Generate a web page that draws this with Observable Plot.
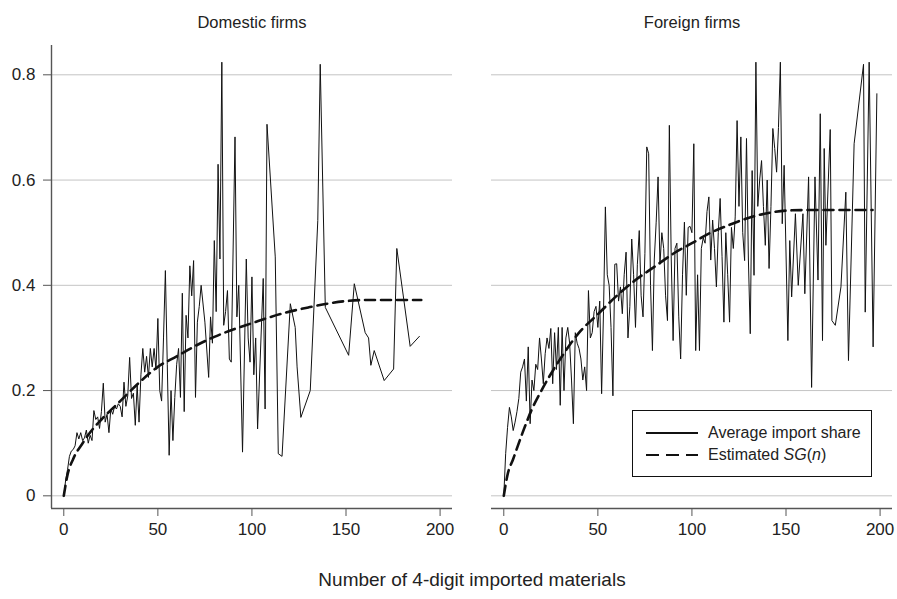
<!DOCTYPE html>
<html>
<head>
<meta charset="utf-8">
<script src="https://cdn.jsdelivr.net/npm/d3@7"></script>
<script src="https://cdn.jsdelivr.net/npm/@observablehq/plot@0.6"></script>
<style>
  body { margin: 0; background: #fff; font-family: "Liberation Sans", Arial, Helvetica, sans-serif; }
  #wrap { position: relative; width: 897px; height: 599px; }
  #xlabel { position: absolute; left: 51px; width: 842px; top: 569px; text-align: center; font-size: 19px; color: #222; line-height: 22px; }
  #legend { position: absolute; left: 632px; top: 410px; width: 238px; height: 65px; border: 1px solid #111; background: #fff; font-size: 16px; color: #222; }
  .lrow { position: absolute; left: 13px; height: 20px; display: flex; align-items: center; white-space: nowrap; }
  .lrow svg { margin-right: 10px; }
</style>
</head>
<body>
<div id="wrap">
  <div id="chart"></div>
  <div id="xlabel">Number of 4-digit imported materials</div>
  <div id="legend">
    <div class="lrow" style="top:12px"><svg width="52" height="6"><line x1="0" y1="3" x2="52" y2="3" stroke="#111" stroke-width="2.2"/></svg><span>Average import share</span></div>
    <div class="lrow" style="top:34px"><svg width="52" height="6"><line x1="0" y1="3" x2="52" y2="3" stroke="#111" stroke-width="2" stroke-dasharray="13,7"/></svg><span>Estimated <i>SG</i>(<i>n</i>)</span></div>
  </div>
</div>
<script>
const panels = ["Domestic firms", "Foreign firms"];
const xTicks = [0, 50, 100, 150, 200];
const yTicks = [0, 0.2, 0.4, 0.6, 0.8];
const xDomain = [-6.53, 206.6];
const yDomain = [-0.0241, 0.8557];

// Domestic firms: average import share
const domesticN = [0,1,2,3,4,5,6,7,8,9,10,11,12,13,14,15,16,17,18,19,20,21,22,23,24,25,26,27,28,29,30,31,32,33,34,35,36,37,38,39,40,41,42,43,44,45,46,47,48,49,50,51,52,53,54,55,56,57,58,59,60,61,62,63,64,65,66,67,68,69,70,71,72,73,75,77,78,79,80,81,82,83,84,85,86,87,88,89,91,92,93,95,97,98,99,100,101,102,103,106,107,108,112.4,114,116,120.4,123,124,126,131,135,136.3,139,151.4,154.4,160.2,162,163.2,165,170.3,175.3,177,184.1,189];
const domesticShare = [0,0.03,0.05,0.075,0.085,0.088,0.095,0.12,0.108,0.12,0.105,0.11,0.125,0.1,0.115,0.105,0.162,0.145,0.15,0.128,0.16,0.214,0.14,0.155,0.12,0.165,0.155,0.17,0.165,0.175,0.17,0.15,0.216,0.17,0.19,0.263,0.185,0.195,0.134,0.21,0.14,0.23,0.28,0.235,0.265,0.225,0.28,0.245,0.28,0.24,0.337,0.2,0.18,0.3,0.428,0.25,0.077,0.2,0.105,0.187,0.25,0.28,0.187,0.385,0.16,0.343,0.3,0.437,0.38,0.447,0.187,0.33,0.36,0.4,0.33,0.225,0.34,0.29,0.485,0.35,0.63,0.45,0.824,0.324,0.35,0.39,0.26,0.254,0.682,0.34,0.4,0.083,0.45,0.3,0.254,0.416,0.23,0.3,0.127,0.413,0.165,0.706,0.454,0.08,0.075,0.365,0.32,0.245,0.149,0.2,0.523,0.82,0.358,0.267,0.403,0.31,0.3,0.248,0.276,0.219,0.241,0.47,0.284,0.303];

// Foreign firms: average import share
const foreignN = [0,1,2,3,4,5,6,7,8,9,10,11,12,13,14,15,16,17,18,19,20,21,22,23,24,25,26,27,28,29,30,31,32,33,34,35,36,37,38,39,40,41,42,43,44,45,46,47,48,49,50,51,52,53,54,55,56,57,58,59,60,61,62,63,64,65,66,67,68,69,70,71,72,73,74,75,76,77,78,79,80,81,82,83,84,85,86,87,88,89,90,91,92,93,94,95,96,97,98,99,100,101,102,103,104,105,106,107,108,109,110,111,112,113,114,115,116,117,118,119,120,121,122,123,124,125,126,127,128,129,130,131,132,133,134,135,136,137,138,139,140,141,142,143,144,145,146,147,148,149,151,152,153,155,156.5,159,160,162,163.6,165.4,167,168.2,169.4,170.3,171.2,173.5,174.4,176.2,179.2,181.8,183.2,186.2,191.2,192.1,194.2,196.3,198.3];
const foreignShare = [0,0.08,0.13,0.168,0.15,0.124,0.14,0.16,0.185,0.235,0.245,0.26,0.18,0.283,0.137,0.22,0.2,0.25,0.24,0.3,0.26,0.213,0.27,0.3,0.28,0.318,0.213,0.31,0.24,0.32,0.172,0.32,0.2,0.3,0.32,0.29,0.22,0.137,0.31,0.29,0.28,0.26,0.22,0.245,0.2,0.39,0.3,0.31,0.35,0.36,0.32,0.37,0.194,0.35,0.549,0.42,0.4,0.32,0.19,0.44,0.441,0.37,0.397,0.346,0.42,0.463,0.3,0.36,0.488,0.42,0.32,0.44,0.504,0.38,0.34,0.46,0.663,0.65,0.4,0.276,0.45,0.52,0.606,0.44,0.5,0.47,0.38,0.333,0.704,0.45,0.295,0.47,0.48,0.34,0.26,0.42,0.52,0.381,0.51,0.512,0.5,0.669,0.276,0.42,0.276,0.47,0.49,0.48,0.54,0.568,0.448,0.524,0.47,0.397,0.5,0.565,0.455,0.33,0.5,0.42,0.33,0.51,0.47,0.53,0.713,0.55,0.682,0.5,0.447,0.679,0.45,0.308,0.618,0.419,0.824,0.55,0.6,0.637,0.55,0.476,0.6,0.432,0.55,0.698,0.66,0.615,0.7,0.824,0.517,0.628,0.295,0.485,0.378,0.536,0.4,0.536,0.384,0.606,0.206,0.606,0.41,0.726,0.295,0.66,0.476,0.696,0.333,0.324,0.397,0.577,0.257,0.669,0.82,0.349,0.824,0.283,0.764];

// Estimated SG(n)
const sgDomesticN = [0,2,5,10,15,20,30,40,50,60,70,80,90,100,110,120,130,140,150,160,170,180,190];
const sgDomestic = [0,0.04,0.07,0.1,0.125,0.145,0.18,0.215,0.245,0.265,0.285,0.302,0.316,0.328,0.34,0.35,0.358,0.365,0.37,0.372,0.372,0.372,0.372];
const sgForeignN = [0,2,5,10,15,20,30,40,50,60,70,80,90,100,110,120,130,140,150,160,170,180,190,196];
const sgForeign = [0,0.04,0.07,0.12,0.165,0.2,0.26,0.31,0.345,0.38,0.41,0.435,0.46,0.48,0.5,0.515,0.528,0.537,0.542,0.543,0.543,0.543,0.543,0.543];

const rows = (panel, ns, vs) => ns.map((n, i) => ({panel, n, v: vs[i]}));
const shareRows = rows(panels[0], domesticN, domesticShare).concat(rows(panels[1], foreignN, foreignShare));
const sgRows = rows(panels[0], sgDomesticN, sgDomestic).concat(rows(panels[1], sgForeignN, sgForeign));

const chart = Plot.plot({
  width: 897,
  height: 599,
  marginLeft: 51,
  marginRight: 4,
  marginTop: 45,
  marginBottom: 91,
  style: {fontFamily: '"Liberation Sans", Arial, Helvetica, sans-serif', fontSize: "16px", color: "#222", background: "#fff"},
  fx: {domain: panels, paddingInner: 0.0885, paddingOuter: 0, label: null},
  x: {domain: xDomain, label: null},
  y: {domain: yDomain, label: null},
  marks: [
    Plot.gridY(yTicks, {stroke: "#c4c4c4", strokeOpacity: 1, strokeWidth: 1}),
    Plot.ruleY([yDomain[0]], {stroke: "#555", strokeWidth: 1.4}),
    Plot.ruleX([{panel: panels[0], n: xDomain[0]}], {x: "n", fx: "panel", stroke: "#555", strokeWidth: 1.4}),
    Plot.axisY(yTicks, {anchor: "left", tickSize: 8, tickPadding: 8, fontSize: 17, tickFormat: d => String(d), stroke: "#555", fill: "#222", label: null}),
    Plot.axisX(xTicks, {anchor: "bottom", tickSize: 8, tickPadding: 6, fontSize: 17, stroke: "#555", fill: "#222", label: null}),
    Plot.axisFx({anchor: "top", tickSize: 0, tickPadding: 18, fontSize: 16.5, fill: "#222", label: null}),
    Plot.line(shareRows, {x: "n", y: "v", fx: "panel", stroke: "#111", strokeWidth: 1}),
    Plot.line(sgRows, {x: "n", y: "v", fx: "panel", stroke: "#111", strokeWidth: 2.6, strokeDasharray: "10,6", curve: "monotone-x"})
  ]
});
document.getElementById("chart").appendChild(chart);
</script>
</body>
</html>
